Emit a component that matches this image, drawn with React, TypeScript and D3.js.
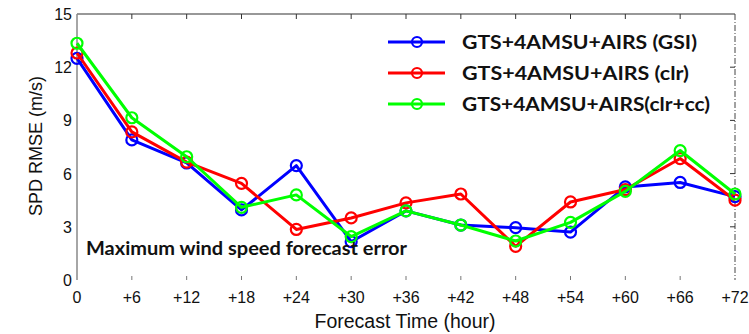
import React, { useEffect, useRef } from "react";
import * as d3 from "d3";

const hours = [0, 6, 12, 18, 24, 30, 36, 42, 48, 54, 60, 66, 72];
const gsi = [12.5, 7.9, 6.6, 3.95, 6.45, 2.16, 3.9, 3.1, 2.95, 2.7, 5.25, 5.5, 4.7];
const clr = [12.8, 8.35, 6.65, 5.45, 2.85, 3.5, 4.35, 4.85, 1.9, 4.4, 5.1, 6.85, 4.5];
const clrcc = [13.35, 9.15, 6.95, 4.1, 4.8, 2.45, 3.9, 3.1, 2.2, 3.25, 5.0, 7.3, 4.85];
const yTicks = [0, 3, 6, 9, 12, 15];

const seriesNames = ["GTS+4AMSU+AIRS (GSI)", "GTS+4AMSU+AIRS (clr)", "GTS+4AMSU+AIRS(clr+cc)"];
const seriesColors = ["#0000ff", "#ff0000", "#00ff00"];
const seriesValues = [gsi, clr, clrcc];

export default function App() {
    const svgRef = useRef<SVGSVGElement | null>(null);

    useEffect(() => {
        if (!svgRef.current) return;
        const width = 749, height = 334;
        const left = 77, right = 735, top = 14, bottom = 280;

        const svg = d3.select(svgRef.current);
        svg.selectAll("*").remove();
        svg.append("rect").attr("width", width).attr("height", height).attr("fill", "#fff");

        const x = d3.scaleLinear().domain([0, 72]).range([left, right]);
        const y = d3.scaleLinear().domain([0, 15]).range([bottom, top]);

        // frame: top solid, left gray, right dash-dot
        svg.append("line").attr("x1", left).attr("x2", right).attr("y1", top).attr("y2", top)
            .attr("stroke", "#333").attr("stroke-width", 1.2);
        svg.append("line").attr("x1", left).attr("x2", left).attr("y1", top).attr("y2", bottom)
            .attr("stroke", "#888").attr("stroke-width", 1.5);
        svg.append("line").attr("x1", right).attr("x2", right).attr("y1", top).attr("y2", bottom)
            .attr("stroke", "#444").attr("stroke-width", 1).attr("stroke-dasharray", "6,2,1,2");

        // x ticks top + bottom
        hours.forEach((h, i) => {
            if (i === 0 || i === hours.length - 1) return;
            svg.append("line").attr("x1", x(h)).attr("x2", x(h)).attr("y1", top).attr("y2", top + 5)
                .attr("stroke", "#333").attr("stroke-width", 1);
            svg.append("line").attr("x1", x(h)).attr("x2", x(h)).attr("y1", bottom - 4).attr("y2", bottom)
                .attr("stroke", "#777").attr("stroke-width", 1);
        });
        // y ticks on right
        yTicks.forEach(t => {
            if (t === 0 || t === 15) return;
            svg.append("line").attr("x1", right - 5).attr("x2", right).attr("y1", y(t)).attr("y2", y(t))
                .attr("stroke", "#333").attr("stroke-width", 1);
        });

        const tickFont = "Liberation Sans, Arial, sans-serif";
        svg.append("g").selectAll("text").data(yTicks).join("text")
            .attr("x", left - 5).attr("y", d => y(d) + 6)
            .attr("text-anchor", "end").attr("font-family", tickFont).attr("font-size", 16)
            .attr("fill", "#111").text(d => String(d));
        svg.append("g").selectAll("text").data(hours).join("text")
            .attr("x", d => x(d)).attr("y", bottom + 23)
            .attr("text-anchor", "middle").attr("font-family", tickFont).attr("font-size", 16)
            .attr("fill", "#111").text(d => (d === 0 ? "0" : `+${d}`));

        svg.append("text")
            .attr("transform", `translate(42,146) rotate(-90)`)
            .attr("text-anchor", "middle").attr("font-family", tickFont).attr("font-size", 18)
            .attr("fill", "#111").text("SPD RMSE (m/s)");
        svg.append("text")
            .attr("x", 405).attr("y", 328)
            .attr("text-anchor", "middle").attr("font-family", tickFont).attr("font-size", 19.5)
            .attr("fill", "#111").text("Forecast Time (hour)");

        // lines + markers
        const line = d3.line<number>().x((_, i) => x(hours[i])).y(d => y(d));
        seriesValues.forEach((vals, s) => {
            const g = svg.append("g");
            g.append("path").datum(vals).attr("d", line).attr("fill", "none")
                .attr("stroke", seriesColors[s]).attr("stroke-width", 3).attr("stroke-linejoin", "round");
            g.selectAll("circle").data(vals).join("circle")
                .attr("cx", (_, i) => x(hours[i])).attr("cy", d => y(d)).attr("r", 5.5)
                .attr("fill", "none").attr("stroke", seriesColors[s]).attr("stroke-width", 2.2);
        });

        // annotation
        const boldFont = "Lato, Open Sans, sans-serif";
        svg.append("text")
            .attr("x", 86).attr("y", 255)
            .attr("font-family", boldFont).attr("font-weight", "bold").attr("font-size", 19)
            .attr("textLength", 321).attr("lengthAdjust", "spacingAndGlyphs")
            .attr("fill", "#111").text("Maximum wind speed forecast error");

        // legend
        const legendY = [42, 73, 104];
        seriesNames.forEach((name, s) => {
            const ly = legendY[s];
            svg.append("line").attr("x1", 388).attr("x2", 445).attr("y1", ly).attr("y2", ly)
                .attr("stroke", seriesColors[s]).attr("stroke-width", 3);
            svg.append("circle").attr("cx", 417).attr("cy", ly).attr("r", 5)
                .attr("fill", "none").attr("stroke", seriesColors[s]).attr("stroke-width", 2.2);
            svg.append("text").attr("x", 462).attr("y", ly + 7)
                .attr("font-family", boldFont).attr("font-weight", "bold").attr("font-size", 19)
                .attr("textLength", s === 1 ? 227 : s === 0 ? 235 : 248).attr("lengthAdjust", "spacingAndGlyphs")
                .attr("fill", "#111").text(name);
        });
    }, []);

    return (
        <svg ref={svgRef} width={749} height={334}
            style={{ position: "absolute", left: 0, top: 0, display: "block" }} />
    );
}
